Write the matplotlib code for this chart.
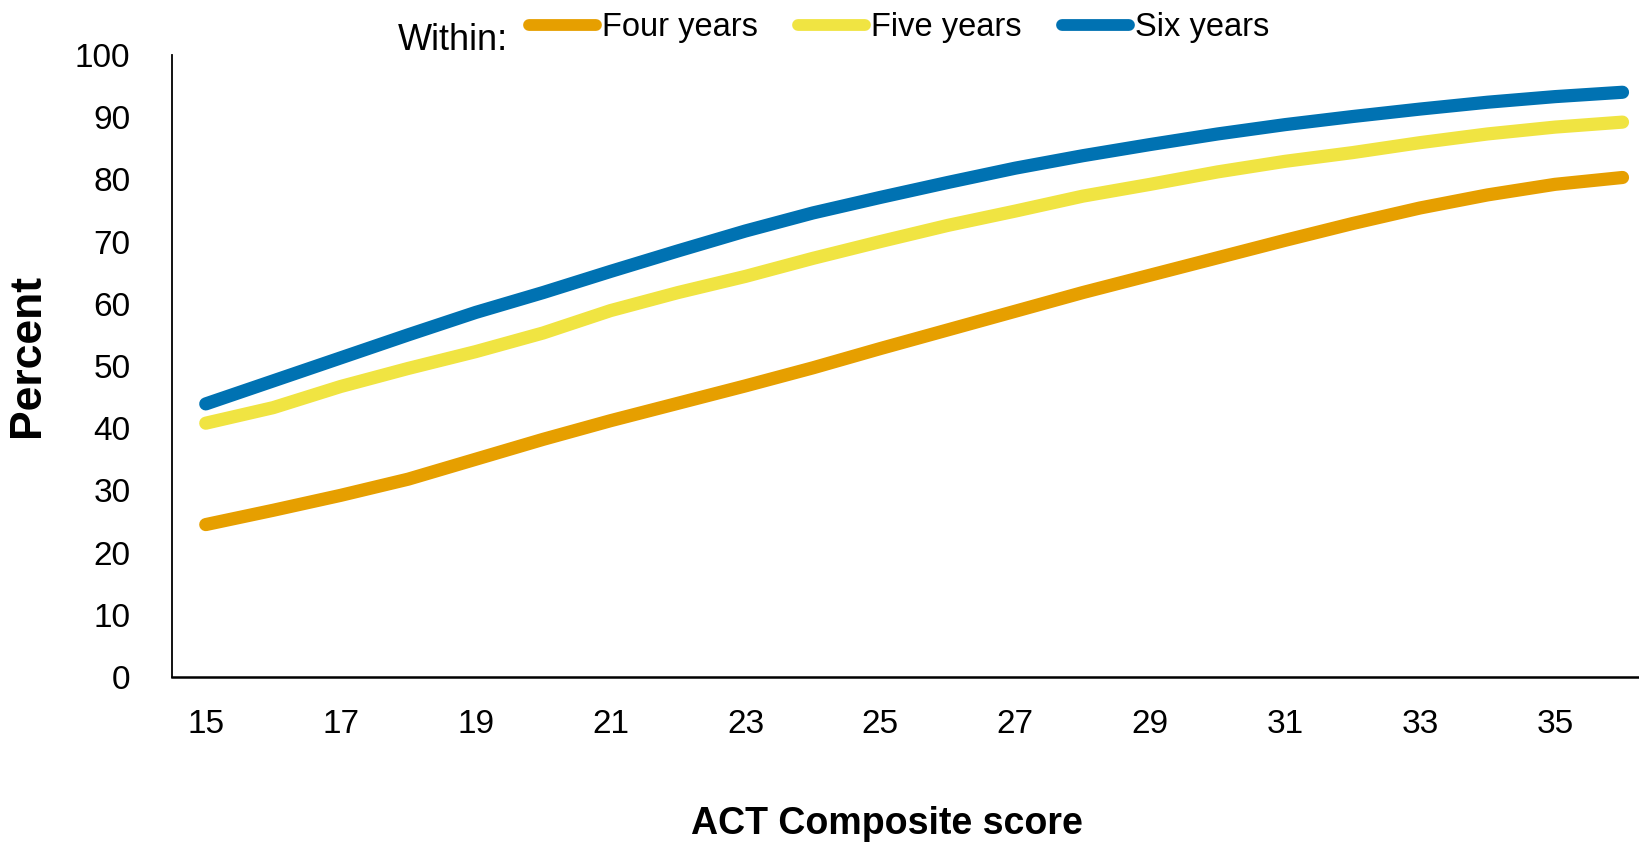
import matplotlib
matplotlib.use("Agg")
import matplotlib.pyplot as plt
from matplotlib.lines import Line2D

# ACT Composite score and completion rates (percent)
scores = list(range(15, 37))
four_years = [24.5, 26.8, 29.2, 31.8, 35.0, 38.2, 41.2, 44.0, 46.8, 49.7, 52.8,
              55.8, 58.8, 61.8, 64.6, 67.4, 70.2, 72.9, 75.4, 77.5, 79.2, 80.3]
five_years = [40.8, 43.3, 46.7, 49.6, 52.3, 55.3, 58.9, 61.8, 64.4, 67.3, 70.0,
              72.6, 74.9, 77.3, 79.2, 81.2, 82.9, 84.3, 85.9, 87.3, 88.4, 89.2]
six_years = [43.9, 47.6, 51.3, 55.0, 58.6, 61.8, 65.2, 68.5, 71.7, 74.6, 77.1,
             79.5, 81.8, 83.8, 85.6, 87.3, 88.8, 90.1, 91.3, 92.4, 93.3, 94.0]

series_labels = ["Four years", "Five years", "Six years"]
series_colors = ["#E69F00", "#F0E442", "#0072B2"]
xtick_values = list(range(15, 36, 2))
ytick_values = list(range(0, 101, 10))

plt.rcParams["font.family"] = ["Liberation Sans", "DejaVu Sans"]

fig = plt.figure(figsize=(16.4, 8.44), dpi=100)
ax = fig.add_axes([0.1049, 0.1979, 0.905, 0.737])

for vals, color in zip([four_years, five_years, six_years], series_colors):
    ax.plot(scores, vals, color=color, lw=9.5, solid_capstyle="round",
            solid_joinstyle="round")

ax.set_xlim(14.5, 36.5)
ax.set_ylim(0, 100)
ax.set_xticks(xtick_values)
ax.set_yticks(ytick_values)
ax.tick_params(axis="both", length=0, labelsize=24)
ax.tick_params(axis="x", pad=23)
ax.tick_params(axis="y", pad=30)

for side in ["top", "right"]:
    ax.spines[side].set_visible(False)
ax.spines["left"].set_color("black")
ax.spines["left"].set_linewidth(1.3)
ax.spines["bottom"].set_color("black")
ax.spines["bottom"].set_linewidth(1.8)

ax.set_xlabel("ACT Composite score", fontsize=27, fontweight="bold", va="center")
ax.xaxis.set_label_coords(0.482, -0.236)
fig.text(0.017, 0.579, "Percent", rotation=90, ha="center", va="center",
         fontsize=32, fontweight="bold")

handles = [Line2D([0], [0], color=c, lw=8.5, solid_capstyle="round")
           for c in series_colors]
fig.legend(handles, series_labels, loc="center left", ncol=3, frameon=False,
           bbox_to_anchor=(0.3225, 0.967), fontsize=23.5, handlelength=2.05,
           handletextpad=0.18, columnspacing=1.25, borderaxespad=0, borderpad=0)
fig.text(0.2427, 0.9526, "Within:", ha="left", va="center", fontsize=26)

fig.savefig("out.png", dpi=100)
